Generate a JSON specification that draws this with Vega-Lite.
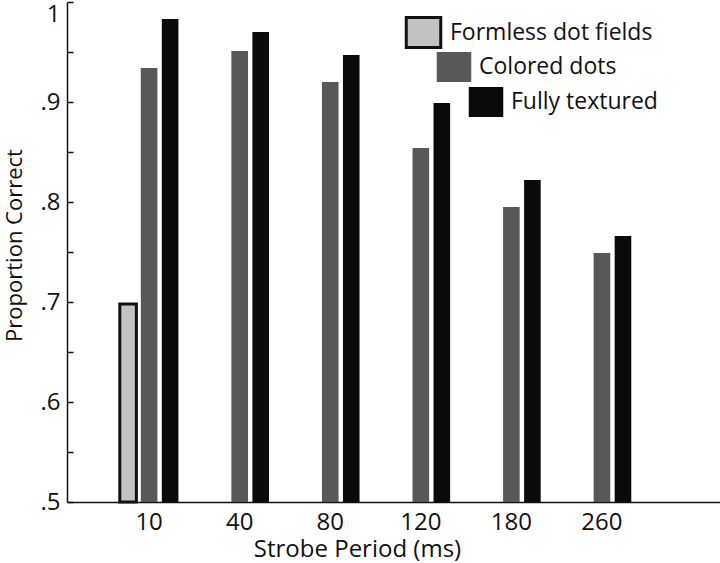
{
  "$schema": "https://vega.github.io/schema/vega-lite/v6.json",
  "autosize": {"type": "none"},
  "padding": {"left": 67, "top": 2, "right": 0, "bottom": 61},
  "width": 653,
  "height": 500,
  "background": "white",
  "config": {
    "font": "Open Sans",
    "view": {"stroke": null},
    "axis": {"labelFont": "Open Sans", "titleFont": "Open Sans", "labelColor": "#111", "titleColor": "#111", "domainColor": "#111", "tickColor": "#111", "grid": false, "titleFontWeight": "normal"},
    "legend": {"labelFont": "Open Sans", "labelFontSize": 23, "labelColor": "#111", "orient": "none", "title": null, "symbolSize": 900, "symbolType": "M-1.15,-1H1.15V1H-1.15Z", "labelOffset": 10, "padding": 0, "labelLimit": 400}
  },
  "data": {
    "values": [
      {"period": "10", "series": "Formless dot fields", "value": 0.698},
      {"period": "10", "series": "Colored dots", "value": 0.934},
      {"period": "10", "series": "Fully textured", "value": 0.983},
      {"period": "40", "series": "Colored dots", "value": 0.951},
      {"period": "40", "series": "Fully textured", "value": 0.970},
      {"period": "80", "series": "Colored dots", "value": 0.920},
      {"period": "80", "series": "Fully textured", "value": 0.947},
      {"period": "120", "series": "Colored dots", "value": 0.854},
      {"period": "120", "series": "Fully textured", "value": 0.899},
      {"period": "180", "series": "Colored dots", "value": 0.795},
      {"period": "180", "series": "Fully textured", "value": 0.822},
      {"period": "260", "series": "Colored dots", "value": 0.749},
      {"period": "260", "series": "Fully textured", "value": 0.766}
    ]
  },
  "encoding": {
    "x": {
      "field": "period", "type": "nominal",
      "sort": ["10", "40", "80", "120", "180", "260"],
      "scale": {"domain": ["10", "40", "80", "120", "180", "260"], "paddingInner": 0, "paddingOuter": 0.605, "align": 0.336},
      "axis": {"title": "Strobe Period (ms)", "labelAngle": 0, "labelFontSize": 24, "titleFontSize": 24, "ticks": false, "labelPadding": 8, "titlePadding": 3, "titleX": 290, "domainWidth": 1.5}
    },
    "xOffset": {
      "field": "series", "type": "nominal",
      "scale": {"domain": ["Formless dot fields", "Colored dots", "Fully textured"], "paddingInner": 0.21, "paddingOuter": 0.76}
    },
    "y": {
      "field": "value", "type": "quantitative",
      "scale": {"domain": [0.5, 1], "nice": false, "zero": false},
      "axis": {
        "title": "Proportion Correct",
        "values": [0.5, 0.55, 0.6, 0.65, 0.7, 0.75, 0.8, 0.85, 0.9, 0.95, 1],
        "labelExpr": "datum.value == 1 ? '1' : (round(datum.value * 100) % 10 == 0 ? replace(format(datum.value, '.1f'), '0.', '.') : '')",
        "labelFontSize": 24, "titleFontSize": 22, "tickSize": -6, "labelPadding": 13, "titlePadding": 13, "titleY": 243, "domainWidth": 1.5, "tickWidth": 1.5,
        "labelBaseline": {"condition": {"test": "datum.value == 1", "value": "top"}, "value": "middle"}
      }
    },
    "y2": {"datum": 0.5}
  },
  "layer": [
    {
      "transform": [{"filter": "datum.series == 'Formless dot fields'"}],
      "mark": {"type": "bar", "stroke": "#111", "strokeWidth": 3},
      "encoding": {
        "color": {"field": "series", "type": "nominal", "scale": {"domain": ["Formless dot fields"], "range": ["#c2c2c2"]},
          "legend": {"legendX": 340, "legendY": 14, "symbolStrokeColor": "#111", "symbolStrokeWidth": 3}}
      }
    },
    {
      "transform": [{"filter": "datum.series == 'Colored dots'"}],
      "mark": {"type": "bar"},
      "encoding": {
        "color": {"field": "series", "type": "nominal", "scale": {"domain": ["Colored dots"], "range": ["#585858"]},
          "legend": {"legendX": 372, "legendY": 50, "symbolStrokeWidth": 0}}
      }
    },
    {
      "transform": [{"filter": "datum.series == 'Fully textured'"}],
      "mark": {"type": "bar"},
      "encoding": {
        "color": {"field": "series", "type": "nominal", "scale": {"domain": ["Fully textured"], "range": ["#0a0a0a"]},
          "legend": {"legendX": 404, "legendY": 85, "symbolStrokeWidth": 0}}
      }
    }
  ],
  "resolve": {"scale": {"color": "independent"}}
}
